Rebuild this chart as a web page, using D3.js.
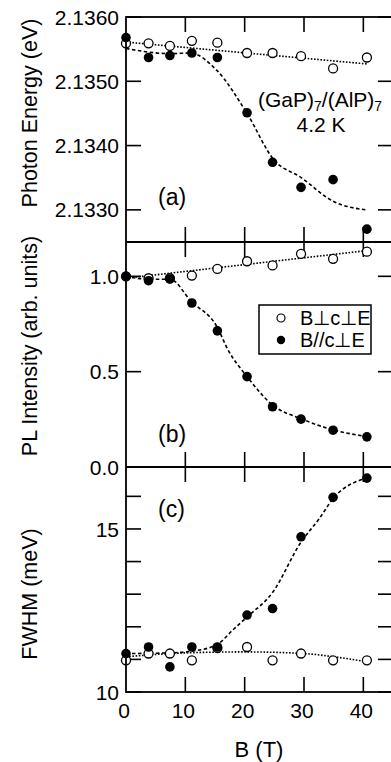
<!DOCTYPE html>
<html>
<head>
<meta charset="utf-8">
<script src="https://cdn.jsdelivr.net/npm/d3@7"></script>
<style>
  body { margin: 0; background: #fff; }
  svg text { font-family: "Liberation Sans", Arial, Helvetica, sans-serif; fill: #000; }
</style>
</head>
<body>
<div id="vis"></div>
<script>
// magnetic field values (T), shared by all three panels
var bField = [0, 3.8, 7.4, 11.1, 15.4, 20.4, 24.7, 29.5, 34.9, 40.6];

// (a) photon energy (eV)
var energyPerp = [2.13559, 2.13559, 2.13555, 2.13563, 2.13560, 2.13544, 2.13544, 2.13539, 2.13520, 2.13537];
var energyPar  = [2.13568, 2.13537, 2.13540, 2.13544, 2.13537, 2.13451, 2.13374, 2.13335, 2.13347, 2.13270];

// (b) PL intensity (arb. units)
var intensityPerp = [1.0, 0.99, 0.99, 1.004, 1.039, 1.079, 1.057, 1.118, 1.092, 1.129];
var intensityPar  = [1.0, 0.977, 0.986, 0.86, 0.714, 0.474, 0.316, 0.251, 0.193, 0.158];

// (c) FWHM (meV)
var fwhmPerp = [10.97, 11.18, 11.18, 10.97, 11.35, 11.38, 10.97, 11.18, 10.97, 10.97];
var fwhmPar  = [11.18, 11.38, 10.77, 11.38, 11.38, 12.36, 12.56, 14.76, 15.97, 16.56];

// guide lines
var energyPerpFitB = [0, 40.6];
var energyPerpFit  = [2.13561, 2.13527];
var energyParFitB  = [0, 7.4, 10.8, 15.3, 20.4, 24.9, 29.4, 35, 40.4];
var energyParFit   = [2.13551, 2.13543, 2.13544, 2.13517, 2.13450, 2.13378, 2.13351, 2.13313, 2.13300];

var intensityPerpFitB = [0, 40.6];
var intensityPerpFit  = [0.99, 1.135];
var intensityParFitB  = [0, 3.8, 7.4, 11, 15.3, 17.2, 20.4, 24.7, 29.5, 34.9, 40.5];
var intensityParFit   = [1.0, 0.985, 0.985, 0.868, 0.737, 0.614, 0.474, 0.325, 0.253, 0.195, 0.16];

var fwhmPerpFitB = [0, 10, 20, 30, 35, 40.5];
var fwhmPerpFit  = [11.08, 11.2, 11.23, 11.18, 11.08, 10.93];
var fwhmParFitB  = [0, 7.4, 11, 15.3, 18, 20.4, 24.7, 29.5, 32.5, 35, 40.5];
var fwhmParFit   = [11.18, 11.2, 11.25, 11.45, 11.9, 12.3, 13.05, 14.6, 15.3, 15.95, 16.56];

var xTicks = [0, 10, 20, 30, 40];

var W = 391, H = 762;
var left = 126, right = 393;
var panelTop = 17, panelH = 225;
var tickLen = 15;

var svg = d3.select('#vis').append('svg')
    .attr('width', W)
    .attr('height', H);

var xScale = d3.scaleLinear().domain([0, 45]).range([left, right]);

var panels = [
    {
        domain: [2.1325, 2.1360],
        ticks: [2.1330, 2.1340, 2.1350, 2.1360],
        labels: [2.1330, 2.1340, 2.1350, 2.1360],
        fmt: d3.format('.4f'),
        perp: energyPerp, par: energyPar,
        perpFit: [energyPerpFitB, energyPerpFit],
        parFit: [energyParFitB, energyParFit],
        title: 'Photon Energy (eV)', titleY: 113,
        tag: '(a)', tagY: 205
    },
    {
        domain: [0, 1.18],
        ticks: [0, 0.5, 1.0],
        labels: [0, 0.5, 1.0],
        fmt: d3.format('.1f'),
        perp: intensityPerp, par: intensityPar,
        perpFit: [intensityPerpFitB, intensityPerpFit],
        parFit: [intensityParFitB, intensityParFit],
        title: 'PL Intensity (arb. units)', titleY: 346,
        tag: '(b)', tagY: 442
    },
    {
        domain: [10, 16.9],
        ticks: [10, 11, 12, 13, 14, 15, 16],
        labels: [10, 15],
        fmt: d3.format('d'),
        perp: fwhmPerp, par: fwhmPar,
        perpFit: [fwhmPerpFitB, fwhmPerpFit],
        parFit: [fwhmParFitB, fwhmParFit],
        title: 'FWHM (meV)', titleY: 594,
        tag: '(c)', tagY: 517
    }
];

panels.forEach(function (p, i) {
    var top = panelTop + i * panelH;
    var bottom = top + panelH;
    var yScale = d3.scaleLinear().domain(p.domain).range([bottom, top]);
    var g = svg.append('g');

    // y ticks, left and right, pointing inward
    p.ticks.forEach(function (t) {
        var y = yScale(t);
        g.append('line').attr('x1', left).attr('x2', left + tickLen)
            .attr('y1', y).attr('y2', y)
            .attr('stroke', '#000').attr('stroke-width', 1.6);
        g.append('line').attr('x1', right - tickLen).attr('x2', right)
            .attr('y1', y).attr('y2', y)
            .attr('stroke', '#000').attr('stroke-width', 1.6);
    });
    p.labels.forEach(function (t) {
        g.append('text')
            .attr('x', 119).attr('y', yScale(t))
            .attr('dy', '0.36em')
            .attr('text-anchor', 'end')
            .style('font-size', '21px')
            .text(p.fmt(t));
    });

    // x ticks on top edge (down) and bottom edge (up) of each panel
    xTicks.slice(1).forEach(function (t) {
        var x = xScale(t);
        g.append('line').attr('x1', x).attr('x2', x)
            .attr('y1', top).attr('y2', top + tickLen)
            .attr('stroke', '#000').attr('stroke-width', 1.6);
        g.append('line').attr('x1', x).attr('x2', x)
            .attr('y1', bottom - tickLen).attr('y2', bottom)
            .attr('stroke', '#000').attr('stroke-width', 1.6);
    });

    // guide lines
    var line = d3.line()
        .x(function (d) { return xScale(d[0]); })
        .y(function (d) { return yScale(d[1]); })
        .curve(d3.curveMonotoneX);

    var perpFit = d3.zip(p.perpFit[0], p.perpFit[1]);
    var parFit = d3.zip(p.parFit[0], p.parFit[1]);

    g.append('path').datum(perpFit)
        .attr('d', line)
        .attr('fill', 'none').attr('stroke', '#000')
        .attr('stroke-width', 1.6).attr('stroke-dasharray', '1.6,1.6');
    g.append('path').datum(parFit)
        .attr('d', line)
        .attr('fill', 'none').attr('stroke', '#000')
        .attr('stroke-width', 1.6).attr('stroke-dasharray', '3.5,2.5');

    // markers
    g.selectAll('circle.perp').data(d3.zip(bField, p.perp)).enter()
        .append('circle').attr('class', 'perp')
        .attr('cx', function (d) { return xScale(d[0]); })
        .attr('cy', function (d) { return yScale(d[1]); })
        .attr('r', 4.5)
        .attr('fill', '#fff').attr('stroke', '#000').attr('stroke-width', 1.3);
    g.selectAll('circle.par').data(d3.zip(bField, p.par)).enter()
        .append('circle').attr('class', 'par')
        .attr('cx', function (d) { return xScale(d[0]); })
        .attr('cy', function (d) { return yScale(d[1]); })
        .attr('r', 4.8)
        .attr('fill', '#000');

    // panel tag and y title
    svg.append('text')
        .attr('x', 158).attr('y', p.tagY)
        .style('font-size', '23px')
        .text(p.tag);

    svg.append('text')
        .attr('transform', 'translate(37,' + p.titleY + ') rotate(-90)')
        .attr('text-anchor', 'middle')
        .style('font-size', '21.5px')
        .text(p.title);
});

// frame: outer border and panel dividers
var frameBottom = panelTop + 3 * panelH;
svg.append('rect')
    .attr('x', left).attr('y', panelTop)
    .attr('width', right - left).attr('height', frameBottom - panelTop)
    .attr('fill', 'none').attr('stroke', '#000').attr('stroke-width', 1.8);
[1, 2].forEach(function (k) {
    svg.append('line')
        .attr('x1', left).attr('x2', right)
        .attr('y1', panelTop + k * panelH).attr('y2', panelTop + k * panelH)
        .attr('stroke', '#000').attr('stroke-width', 1.8);
});

// x tick labels and title
xTicks.forEach(function (t) {
    svg.append('text')
        .attr('x', xScale(t) - 2).attr('y', 718)
        .attr('text-anchor', 'middle')
        .style('font-size', '21px')
        .text(t);
});
svg.append('text')
    .attr('x', 259).attr('y', 757)
    .attr('text-anchor', 'middle')
    .style('font-size', '22px')
    .text('B (T)');

// sample annotation
var note = svg.append('text')
    .attr('x', 258).attr('y', 107)
    .style('font-size', '21px');
note.append('tspan').text('(GaP)');
note.append('tspan').attr('dy', 4).style('font-size', '14px').text('7');
note.append('tspan').attr('dy', -4).text('/(AlP)');
note.append('tspan').attr('dy', 4).style('font-size', '14px').text('7');
svg.append('text')
    .attr('x', 321).attr('y', 132)
    .attr('text-anchor', 'middle')
    .style('font-size', '21px')
    .text('4.2 K');

// legend
var legend = svg.append('g');
legend.append('rect')
    .attr('x', 259).attr('y', 305).attr('width', 112).attr('height', 49)
    .attr('fill', '#fff').attr('stroke', '#000').attr('stroke-width', 1.5);
legend.append('circle').attr('cx', 281).attr('cy', 318).attr('r', 4)
    .attr('fill', '#fff').attr('stroke', '#000').attr('stroke-width', 1.2);
legend.append('circle').attr('cx', 281).attr('cy', 340).attr('r', 4.2)
    .attr('fill', '#000');
legend.append('text').attr('x', 300).attr('y', 325)
    .style('font-size', '20px').text('B\u22A5c\u22A5E');
legend.append('text').attr('x', 300).attr('y', 347)
    .style('font-size', '20px').text('B//c\u22A5E');
</script>
</body>
</html>
